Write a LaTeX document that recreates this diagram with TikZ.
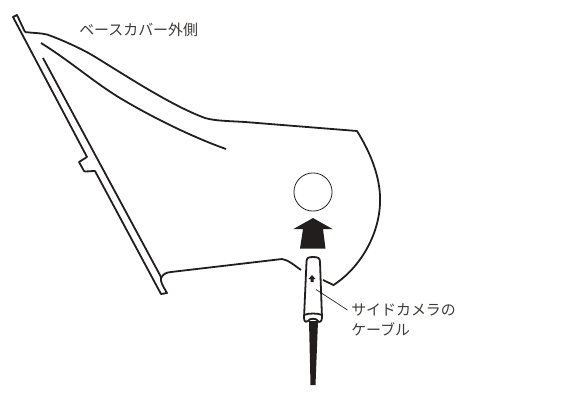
\documentclass[tikz,border=0pt]{standalone}
\usepackage{fontspec}
\newfontfamily\jpfont{Noto Sans CJK JP}
\definecolor{ink}{RGB}{35,30,30}
\definecolor{lab}{RGB}{62,58,57}
\tikzset{
  outline/.style={draw=ink,line width=1.35pt,line join=round,line cap=butt},
  thin outline/.style={draw=ink,line width=0.6pt},
  leader/.style={draw=ink,line width=0.5pt},
  solid ink/.style={fill=ink,draw=none},
  label text/.style={font=\jpfont\fontsize{11.2pt}{15pt}\selectfont,text=lab,inner sep=0pt,align=left}
}
\begin{document}
\begin{tikzpicture}[x=0.75pt,y=-0.75pt]
\useasboundingbox (0,0) rectangle (588,394);
% flange and shell
\draw[outline] (25,32) -- (17,15) -- (13,17) -- (87,157) -- (79,162) -- (84,171) .. controls (85,172) and (90,171) .. (95,171) -- (161,294) -- (167,293) .. controls (163,286) and (160,282) .. (161,277);
\draw[outline] (43,58) -- (161,277);
\draw[outline] (25,32) .. controls (32,33) and (41,33) .. (47,34.5) .. controls (60,39) and (80,48) .. (92,55)
  .. controls (125,75) and (170,105) .. (205,118) .. controls (215,121) and (230,121) .. (245,122) -- (357,131)
  .. controls (372,155) and (381,180) .. (380,203) .. controls (379,235) and (360,268) .. (333.5,285) -- (323,280);
\draw[outline] (41,43) .. controls (70,61) and (95,83) .. (120,98) .. controls (155,119) and (195,138) .. (226,149);
\draw[outline] (301,270) .. controls (295,266) and (289,260) .. (282,259) -- (171,272) .. controls (166,272.5) and (163,274) .. (161,278);
% hole
\node[circle,thin outline,minimum size=28.6pt,inner sep=0pt] (hole) at (313,192) {};
% arrow
\fill[solid ink] (313,218) -- (332.5,229) -- (323,229) -- (325.5,248.5) -- (300,248.5) -- (303,229) -- (293.5,229) -- cycle;
% cable
\fill[solid ink] (309,321) -- (318,321) -- (315.5,385) -- (310.5,385) -- cycle;
% connector
\draw[outline,fill=white] (304,318) -- (306.5,262) .. controls (306.5,258) and (308,257) .. (313,257) .. controls (318,257) and (320,258) .. (320,262) -- (322,318) .. controls (322,322) and (318,323) .. (318,321) .. controls (317,318) and (309,318) .. (308,321) .. controls (307,323) and (304,322) .. (304,318) -- cycle;
\draw[outline] (304,315) .. controls (308,313) and (318,313) .. (322,315);
\fill[solid ink] (312,275) -- (315.5,279) -- (313.5,279) -- (313.5,282) -- (310.5,282) -- (310.5,279) -- (308.5,279) -- cycle;
% labels
\node[label text,anchor=west] (outer) at (79,30) {ベースカバー外側};
\node[label text,anchor=north west] (cable) at (351,303) {サイドカメラの\\ケーブル};
\coordinate (tip) at (316,289.5);
\draw[leader] (tip) -- (347.5,310);
\end{tikzpicture}
\end{document}
